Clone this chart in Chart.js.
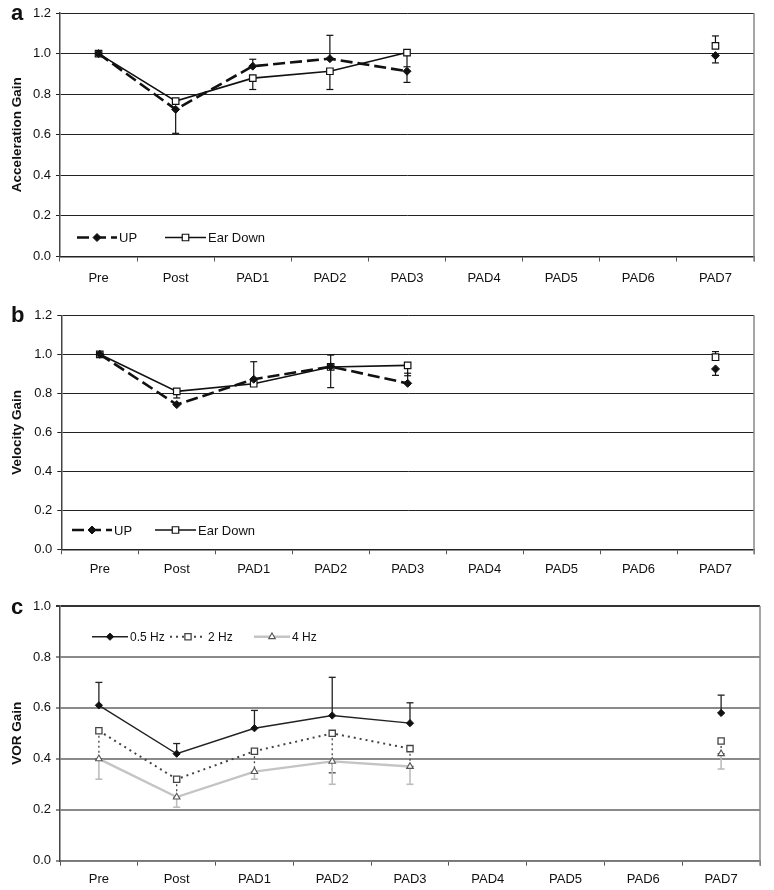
<!DOCTYPE html>
<html>
<head>
<meta charset="utf-8">
<script src="https://cdn.jsdelivr.net/npm/chart.js"></script>
<style>
  body { margin: 0; background: #fff; }
  #wrap { position: relative; width: 774px; height: 890px; font-family: "Liberation Sans", Arial, sans-serif; }
  canvas { position: absolute; left: 0; }
  .letra { position: absolute; font-weight: bold; font-size: 22px; color: #111; }
</style>
</head>
<body>
<div id="wrap">
  <canvas id="chartA" style="top:0"></canvas>
  <canvas id="chartB" style="top:290px"></canvas>
  <canvas id="chartC" style="top:580px"></canvas>
  <div class="letra" style="left:11px; top:0px;">a</div>
  <div class="letra" style="left:11px; top:302px;">b</div>
  <div class="letra" style="left:11px; top:594px;">c</div>
</div>
<script>
// Categorías del eje X
const etiquetas = ['Pre', 'Post', 'PAD1', 'PAD2', 'PAD3', 'PAD4', 'PAD5', 'PAD6', 'PAD7'];

// Panel a: ganancia de aceleración
const accUp = [1.0, 0.725, 0.938, 0.975, 0.913, null, null, null, 0.99];
const accUpHi = [null, null, 0.972, 1.09, null, null, null, null, null];
const accUpLo = [null, 0.607, null, null, 0.858, null, null, null, 0.954];
const accEar = [1.0, 0.766, 0.879, 0.913, 1.005, null, null, null, 1.038];
const accEarHi = [null, null, null, null, null, null, null, null, 1.087];
const accEarLo = [null, null, 0.823, 0.823, 0.935, null, null, null, null];

// Panel b: ganancia de velocidad
const velUp = [1.0, 0.742, 0.872, 0.937, 0.851, null, null, null, 0.925];
const velUpHi = [null, null, 0.962, null, 0.903, null, null, null, null];
const velUpLo = [null, null, null, null, null, null, null, null, 0.892];
const velEar = [1.0, 0.81, 0.849, 0.935, 0.943, null, null, null, 0.985];
const velEarHi = [null, null, null, 0.996, null, null, null, null, 1.014];
const velEarLo = [null, 0.776, null, 0.829, 0.89, null, null, null, null];

// Panel c: ganancia VOR por frecuencia
const vor05 = [0.61, 0.42, 0.52, 0.57, 0.54, null, null, null, 0.58];
const vor05Hi = [0.70, 0.46, 0.59, 0.72, 0.62, null, null, null, 0.65];
const vor2 = [0.51, 0.32, 0.43, 0.50, 0.44, null, null, null, 0.47];
const vor2Lo = [0.40, 0.25, 0.35, 0.345, 0.37, null, null, null, 0.42];
const vor4 = [0.40, 0.25, 0.35, 0.39, 0.37, null, null, null, 0.42];
const vor4Lo = [0.32, 0.21, 0.32, 0.30, 0.30, null, null, null, 0.36];

const FUENTE = '"Liberation Sans", Arial, sans-serif';

// Barras de error (solo un lado, como en el original)
const errorBars = {
    id: 'errorBars',
    beforeDatasetsDraw(chart) {
        const ctx = chart.ctx;
        const y = chart.scales.y;
        chart.data.datasets.forEach((ds, i) => {
            const meta = chart.getDatasetMeta(i);
            ctx.save();
            ctx.strokeStyle = ds.errColor || '#000';
            ctx.lineWidth = ds.errWidth || 1.2;
            ctx.setLineDash(ds.errDash || []);
            ['errHi', 'errLo'].forEach(k => {
                const arr = ds[k];
                if (!arr) return;
                arr.forEach((v, j) => {
                    if (v === null || ds.data[j] === null) return;
                    const px = meta.data[j].x;
                    const p0 = y.getPixelForValue(ds.data[j]);
                    const p1 = y.getPixelForValue(v);
                    ctx.beginPath();
                    ctx.moveTo(px, p0);
                    ctx.lineTo(px, p1);
                    ctx.stroke();
                    ctx.save();
                    ctx.setLineDash([]);
                    ctx.beginPath();
                    ctx.moveTo(px - 3.5, p1);
                    ctx.lineTo(px + 3.5, p1);
                    ctx.stroke();
                    ctx.restore();
                });
            });
            ctx.restore();
        });
    }
};

// Borde derecho del área de trazado
const marco = {
    id: 'marco',
    afterDraw(chart, args, opts) {
        const a = chart.chartArea;
        const ctx = chart.ctx;
        ctx.save();
        ctx.strokeStyle = opts.color || '#888';
        ctx.lineWidth = 1.5;
        ctx.beginPath();
        ctx.moveTo(a.right, a.top);
        ctx.lineTo(a.right, a.bottom + 5);
        ctx.stroke();
        ctx.restore();
    }
};

// Leyenda dentro del gráfico
const leyenda = {
    id: 'leyenda',
    afterDatasetsDraw(chart, args, opts) {
        const ctx = chart.ctx;
        const yy = opts.y;
        opts.items.forEach(it => {
            const ds = chart.data.datasets[it.ds];
            ctx.save();
            ctx.strokeStyle = ds.borderColor;
            ctx.lineWidth = ds.borderWidth;
            ctx.setLineDash(ds.borderDash || []);
            ctx.beginPath();
            ctx.moveTo(it.x, yy);
            ctx.lineTo(it.x + it.len, yy);
            ctx.stroke();
            ctx.setLineDash([]);
            ctx.fillStyle = ds.pointBackgroundColor;
            ctx.strokeStyle = ds.pointBorderColor;
            ctx.lineWidth = ds.pointBorderWidth || 1;
            Chart.helpers.drawPoint(ctx, {
                pointStyle: ds.pointStyle, radius: ds.pointRadius, rotation: 0, borderWidth: ctx.lineWidth
            }, it.x + it.len / 2, yy);
            ctx.fillStyle = '#111';
            ctx.font = (opts.size || 13) + 'px ' + FUENTE;
            ctx.textBaseline = 'middle';
            ctx.fillText(ds.label, it.x + it.len + 2, yy + 1);
            ctx.restore();
        });
    }
};

function crearPanel(id, alto, cfg) {
    const canvas = document.getElementById(id);
    canvas.width = 774;
    canvas.height = alto;
    canvas.style.width = '774px';
    canvas.style.height = alto + 'px';
    return new Chart(canvas.getContext('2d'), {
        type: 'line',
        data: { labels: etiquetas, datasets: cfg.datasets },
        plugins: [errorBars, marco, leyenda],
        options: {
            responsive: false,
            animation: false,
            layout: { padding: { left: 0, top: cfg.top, right: 774 - cfg.right, bottom: 0 } },
            plugins: {
                legend: { display: false },
                tooltip: { enabled: false },
                leyenda: cfg.leyenda,
                marco: { color: '#888' }
            },
            scales: {
                x: {
                    offset: true,
                    grid: { offset: true, drawOnChartArea: false, drawTicks: true, tickLength: 5, color: '#555' },
                    border: { display: true, color: cfg.bottomColor, width: 1.5 },
                    ticks: { color: '#111', font: { family: FUENTE, size: 13 }, padding: cfg.tickPad, maxRotation: 0 },
                    afterFit: s => { s.height = cfg.xHeight; }
                },
                y: {
                    min: 0,
                    max: cfg.max,
                    ticks: {
                        stepSize: 0.2, color: '#111', padding: 5,
                        font: { family: FUENTE, size: 13 },
                        callback: v => Number(v).toFixed(1)
                    },
                    grid: {
                        color: cfg.gridColor, lineWidth: cfg.gridWidth, tickLength: 4
                    },
                    border: { display: true, color: '#444', width: 1.5 },
                    title: {
                        display: true, text: cfg.titulo, color: '#111',
                        font: { family: FUENTE, size: 13.5, weight: 'bold' },
                        padding: { top: 9, bottom: 0 }
                    },
                    afterFit: s => { s.width = cfg.left; }
                }
            }
        }
    });
}

function parUpEar(up, upHi, upLo, ear, earHi, earLo) {
    return [{
        label: 'UP', data: up, errHi: upHi, errLo: upLo,
        borderColor: '#111', borderWidth: 2.6, borderDash: [12, 5], tension: 0,
        pointStyle: 'rectRot', pointRadius: 4, pointBackgroundColor: '#111',
        pointBorderColor: '#111', pointBorderWidth: 1, errColor: '#111', errWidth: 1.2
    }, {
        label: 'Ear Down', data: ear, errHi: earHi, errLo: earLo,
        borderColor: '#111', borderWidth: 1.6, tension: 0,
        pointStyle: 'rect', pointRadius: 4.6, pointBackgroundColor: '#fff',
        pointBorderColor: '#111', pointBorderWidth: 1.2, errColor: '#111', errWidth: 1.2
    }];
}

// Panel a
crearPanel('chartA', 290, {
    top: 13, right: 754, left: 60, xHeight: 33.5, max: 1.2, tickPad: 9,
    titulo: 'Acceleration Gain',
    gridColor: '#222', gridWidth: 1, bottomColor: '#222',
    datasets: parUpEar(accUp, accUpHi, accUpLo, accEar, accEarHi, accEarLo),
    leyenda: { y: 237.5, items: [{ ds: 0, x: 77, len: 40 }, { ds: 1, x: 165, len: 41 }] }
});

// Panel b
crearPanel('chartB', 290, {
    top: 25.3, right: 754, left: 61.3, xHeight: 30.7, max: 1.2, tickPad: 7,
    titulo: 'Velocity Gain',
    gridColor: '#222', gridWidth: 1, bottomColor: '#222',
    datasets: parUpEar(velUp, velUpHi, velUpLo, velEar, velEarHi, velEarLo),
    leyenda: { y: 240, items: [{ ds: 0, x: 72, len: 40 }, { ds: 1, x: 155, len: 41 }] }
});

// Panel c
crearPanel('chartC', 310, {
    top: 26, right: 760, left: 60, xHeight: 29.3, max: 1.0, tickPad: 6,
    titulo: 'VOR Gain',
    gridColor: ctx => (ctx.tick && ctx.tick.value === 1 ? '#333' : '#8a8a8a'), gridWidth: 2, bottomColor: '#777',
    datasets: [{
        label: '0.5 Hz', data: vor05, errHi: vor05Hi,
        borderColor: '#222', borderWidth: 1.4, tension: 0,
        pointStyle: 'rectRot', pointRadius: 3.6, pointBackgroundColor: '#111',
        pointBorderColor: '#111', pointBorderWidth: 1, errColor: '#222', errWidth: 1.3
    }, {
        label: '2 Hz', data: vor2, errLo: vor2Lo,
        borderColor: '#444', borderWidth: 2, borderDash: [2, 4], tension: 0,
        pointStyle: 'rect', pointRadius: 4.4, pointBackgroundColor: '#fff',
        pointBorderColor: '#444', pointBorderWidth: 1.3, errColor: '#444', errWidth: 1.3, errDash: [2, 3]
    }, {
        label: '4 Hz', data: vor4, errLo: vor4Lo,
        borderColor: '#c4c4c4', borderWidth: 2.4, tension: 0,
        pointStyle: 'triangle', pointRadius: 3.8, pointBackgroundColor: '#fff',
        pointBorderColor: '#555', pointBorderWidth: 1.1, errColor: '#bdbdbd', errWidth: 1.6
    }],
    leyenda: {
        y: 56.7, size: 12,
        items: [{ ds: 0, x: 92, len: 36 }, { ds: 1, x: 170, len: 36 }, { ds: 2, x: 254, len: 36 }]
    }
});
</script>
</body>
</html>
